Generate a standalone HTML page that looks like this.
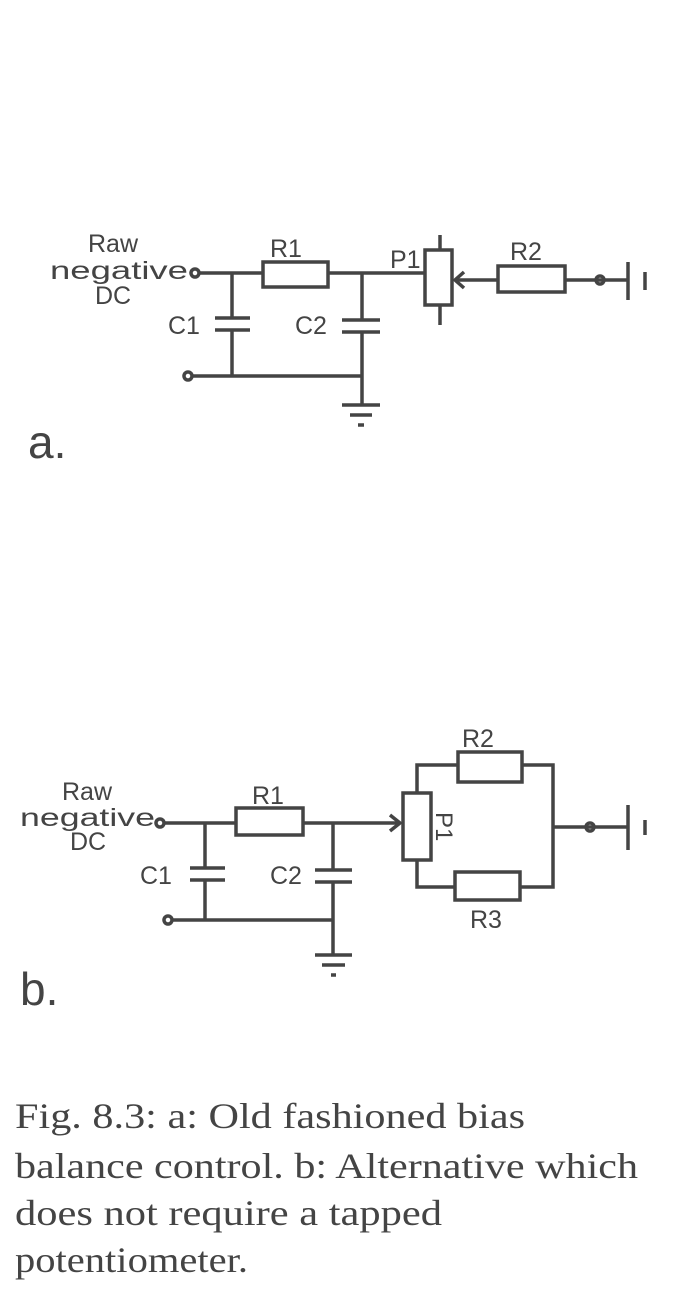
<!DOCTYPE html>
<html><head><meta charset="utf-8"><style>
html,body{margin:0;padding:0;background:#fff;}
svg{display:block;}
</style></head><body>
<svg width="680" height="1303" viewBox="0 0 680 1303" xmlns="http://www.w3.org/2000/svg">
<g stroke="#444" stroke-width="3.5" fill="none">
<!-- Diagram a -->
<circle cx="195" cy="273" r="4"/>
<line x1="199" y1="273" x2="263" y2="273"/>
<rect x="263" y="262" width="65" height="25"/>
<line x1="328" y1="273" x2="425" y2="273"/>
<line x1="232" y1="273" x2="232" y2="318"/>
<line x1="215" y1="318" x2="250" y2="318"/>
<line x1="215" y1="330" x2="250" y2="330"/>
<line x1="232" y1="330" x2="232" y2="376"/>
<circle cx="188" cy="376" r="4"/>
<line x1="192" y1="376" x2="362" y2="376"/>
<line x1="362" y1="273" x2="362" y2="320"/>
<line x1="342" y1="320" x2="380" y2="320"/>
<line x1="342" y1="332" x2="380" y2="332"/>
<line x1="362" y1="332" x2="362" y2="405"/>
<line x1="342" y1="405" x2="380" y2="405"/>
<line x1="350" y1="415" x2="372" y2="415"/>
<line x1="358" y1="425" x2="364" y2="425"/>
<rect x="425" y="250" width="27" height="55"/>
<line x1="440" y1="235" x2="440" y2="250"/>
<line x1="440" y1="305" x2="440" y2="325"/>
<polyline points="464,272 455,280 464,288"/>
<line x1="455" y1="280" x2="498" y2="280"/>
<rect x="498" y="266" width="67" height="26"/>
<line x1="565" y1="280" x2="628" y2="280"/>
<circle cx="600" cy="280" r="4"/>
<line x1="628" y1="262" x2="628" y2="300"/>
<line x1="645" y1="272" x2="645" y2="290"/>
<!-- Diagram b -->
<circle cx="160" cy="823" r="4"/>
<line x1="164" y1="823" x2="236" y2="823"/>
<rect x="236" y="808" width="67" height="27"/>
<line x1="303" y1="823" x2="400" y2="823"/>
<polyline points="390,815 400,823 390,831"/>
<line x1="205" y1="823" x2="205" y2="868"/>
<line x1="190" y1="868" x2="225" y2="868"/>
<line x1="190" y1="880" x2="225" y2="880"/>
<line x1="205" y1="880" x2="205" y2="920"/>
<circle cx="168" cy="920" r="4"/>
<line x1="172" y1="920" x2="333" y2="920"/>
<line x1="333" y1="823" x2="333" y2="870"/>
<line x1="315" y1="870" x2="352" y2="870"/>
<line x1="315" y1="882" x2="352" y2="882"/>
<line x1="333" y1="882" x2="333" y2="955"/>
<line x1="315" y1="955" x2="352" y2="955"/>
<line x1="322" y1="965" x2="345" y2="965"/>
<line x1="331" y1="975" x2="336" y2="975"/>
<rect x="403" y="793" width="28" height="67"/>
<polyline points="417,793 417,765 458,765"/>
<rect x="458" y="752" width="64" height="30"/>
<polyline points="522,765 553,765 553,887 520,887"/>
<polyline points="417,860 417,887 455,887"/>
<rect x="455" y="872" width="65" height="28"/>
<line x1="553" y1="827" x2="628" y2="827"/>
<circle cx="590" cy="827" r="4"/>
<line x1="628" y1="805" x2="628" y2="850"/>
<line x1="645" y1="820" x2="645" y2="835"/>
</g>
<g fill="#444" font-family="Liberation Sans, sans-serif" font-size="25">
<text x="88" y="252">Raw</text>
<text x="50" y="279" textLength="138" lengthAdjust="spacingAndGlyphs">negative</text>
<text x="95" y="304">DC</text>
<text x="270" y="257">R1</text>
<text x="390" y="268">P1</text>
<text x="510" y="260">R2</text>
<text x="168" y="334">C1</text>
<text x="295" y="334">C2</text>
<text x="28" y="458" font-size="46">a.</text>
<text x="62" y="800">Raw</text>
<text x="20" y="826" textLength="135" lengthAdjust="spacingAndGlyphs">negative</text>
<text x="70" y="850">DC</text>
<text x="252" y="804">R1</text>
<text x="462" y="747">R2</text>
<text x="470" y="928">R3</text>
<text x="140" y="884">C1</text>
<text x="270" y="884">C2</text>
<text transform="translate(436,812) rotate(90)" font-size="24">P1</text>
<text x="20" y="1005" font-size="46">b.</text>
</g>
<g fill="#444" font-family="Liberation Serif, serif" font-size="36">
<text x="15" y="1128" textLength="510" lengthAdjust="spacingAndGlyphs">Fig. 8.3: a: Old fashioned bias</text>
<text x="15" y="1178" textLength="623" lengthAdjust="spacingAndGlyphs">balance control. b: Alternative which</text>
<text x="15" y="1225" textLength="427" lengthAdjust="spacingAndGlyphs">does not require  a tapped</text>
<text x="15" y="1272" textLength="233" lengthAdjust="spacingAndGlyphs">potentiometer.</text>
</g>
</svg>
</body></html>
